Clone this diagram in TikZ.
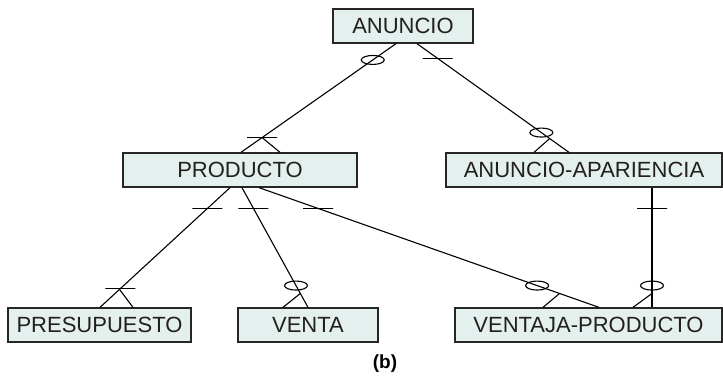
\documentclass[tikz,border=0pt]{standalone}
\usepackage{fontspec}
\setmainfont{Liberation Sans}
\usepackage{xcolor}
\usetikzlibrary{shapes.geometric, positioning, calc}

\definecolor{entfill}{RGB}{228,240,237}
\definecolor{enttext}{RGB}{35,31,32}

\begin{document}
\begin{tikzpicture}[
    x=1pt, y=-1pt,
    % --- node styles ---
    entity/.style={rectangle, draw=black!85, fill=entfill, line width=1.3pt,
        minimum height=34pt, inner sep=0pt, text=enttext,
        font=\fontsize{22}{25}\selectfont},
    onebar/.style={draw, rectangle, minimum width=30pt, minimum height=0pt,
        inner sep=0pt, line width=1.1pt},
    zerooval/.style={draw, ellipse, minimum width=23pt, minimum height=9pt,
        inner sep=0pt, line width=1.1pt},
    % --- line styles ---
    rel/.style={line width=1.1pt},
    caption/.style={font=\fontsize{19}{22}\selectfont\bfseries}
]
\useasboundingbox (0,0) rectangle (723,377);

%%% ================= ROW 0 =================
\node (anuncio) [entity, minimum width=140pt] at (403,26) {ANUNCIO};

%%% ================= ROW 1 =================
\node (producto) [entity, minimum width=234pt] at (240,170) {PRODUCTO};
\node (apariencia) [entity, minimum width=276pt] at (584,170) {ANUNCIO-APARIENCIA};

%%% ================= ROW 2 =================
\node (presupuesto) [entity, minimum width=183pt] at (99.5,325) {PRESUPUESTO};
\node (venta) [entity, minimum width=140pt] at (308,325) {VENTA};
\node (ventaja) [entity, minimum width=267pt] at (588.5,325) {VENTAJA-PRODUCTO};

\node (cap) [caption] at (385,364) {(b)};

%%% ================= RELACIONES =================
%% ANUNCIO -- PRODUCTO
\draw [rel] ([xshift=-7pt]anuncio.south)
    -- node[zerooval, pos=0.15] {}
       node[onebar, pos=0.864] {} coordinate[pos=0.864] (cf1)
    ([xshift=1pt]producto.north);
\draw [rel] (cf1) -- ([xshift=40pt]producto.north);

%% ANUNCIO -- ANUNCIO-APARIENCIA
\draw [rel] ([xshift=14pt]anuncio.south)
    -- node[onebar, pos=0.136] {}
       node[zerooval, pos=0.818] {} coordinate[pos=0.873] (cf2)
    ([xshift=-15pt]apariencia.north);
\draw [rel] (cf2) -- ([xshift=-50pt]apariencia.north);

%% PRODUCTO -- PRESUPUESTO
\draw [rel] ([xshift=-10pt]producto.south)
    -- node[onebar, pos=0.174] {}
       node[onebar, pos=0.843] {} coordinate[pos=0.85] (cf3)
    ([xshift=0.5pt]presupuesto.north);
\draw [rel] (cf3) -- ([xshift=33.5pt]presupuesto.north);

%% PRODUCTO -- VENTA
\draw [rel] ([xshift=2pt]producto.south)
    -- node[onebar, pos=0.174] {}
       node[zerooval, pos=0.818] {} coordinate[pos=0.884] (cf4)
    (venta.north);
\draw [rel] (cf4) -- ([xshift=-25pt]venta.north);

%% PRODUCTO -- VENTAJA-PRODUCTO
\draw [rel] ([xshift=19pt]producto.south)
    -- node[onebar, pos=0.174] {}
       node[zerooval, pos=0.818] {} coordinate[pos=0.884] (cf5)
    ([xshift=10.5pt]ventaja.north);
\draw [rel] (cf5) -- ([xshift=-45.5pt]ventaja.north);

%% ANUNCIO-APARIENCIA -- VENTAJA-PRODUCTO
\draw [rel] ([xshift=68pt]apariencia.south)
    -- node[onebar, pos=0.174] {}
       node[zerooval, pos=0.818] {} coordinate[pos=0.884] (cf6)
    ([xshift=63.5pt]ventaja.north);
\draw [rel] (cf6) -- ([xshift=44.5pt]ventaja.north);

\end{tikzpicture}
\end{document}
